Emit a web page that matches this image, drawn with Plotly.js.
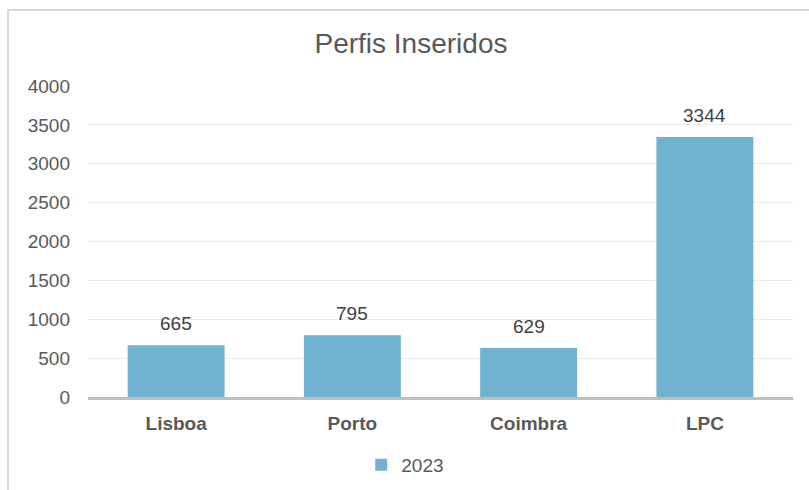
<!DOCTYPE html>
<html>
<head>
<meta charset="utf-8">
<script src="https://cdn.plot.ly/plotly-3.0.1.min.js"></script>
<style>
  html, body { margin: 0; padding: 0; background: #ffffff; }
  #frame { position: absolute; left: 7px; top: 9px; width: 820px; height: 500px;
           border-left: 2px solid #d9d9d9; border-top: 2px solid #d9d9d9; }
  #chart { position: absolute; left: 0; top: 0; width: 809px; height: 490px; }
</style>
</head>
<body>
<div id="frame"></div>
<div id="chart"></div>
<script>
const categories = ["Lisboa", "Porto", "Coimbra", "LPC"];
const values2023 = [665, 795, 629, 3344];
const seriesName = "2023";
const yTicks = [0, 500, 1000, 1500, 2000, 2500, 3000, 3500, 4000];

const barColor = "#70b2cf";
const FONT = "Liberation Sans, Arial, sans-serif";

const trace = {
  type: "bar",
  x: categories,
  y: values2023,
  name: seriesName,
  marker: { color: barColor },
  width: 0.55,
  showlegend: true,
  hoverinfo: "x+y"
};

const annotations = categories.map((c, i) => ({
  x: c, y: values2023[i], xref: "x", yref: "y",
  text: String(values2023[i]), showarrow: false,
  yanchor: "bottom", yshift: 9,
  font: { family: FONT, size: 19, color: "#404040" }
}));

const layout = {
  width: 809, height: 490,
  paper_bgcolor: "rgba(0,0,0,0)",
  plot_bgcolor: "rgba(0,0,0,0)",
  margin: { l: 88, r: 16, t: 86, b: 93, autoexpand: false },
  title: {
    text: "Perfis Inseridos",
    font: { family: FONT, size: 28, color: "#595959" },
    x: 0.508, xanchor: "center", y: 0.912, yanchor: "middle"
  },
  font: { family: FONT, color: "#595959" },
  xaxis: {
    type: "category",
    automargin: false,
    showline: true, linecolor: "#bfbfbf", linewidth: 3,
    showgrid: false, ticks: "",
    tickfont: { family: FONT, size: 19, color: "#595959", weight: "bold" },
    ticklabelstandoff: 7,
    fixedrange: true
  },
  yaxis: {
    automargin: false,
    range: [0, 4000],
    tickvals: yTicks,
    ticktext: yTicks.map(String),
    showgrid: true, gridcolor: "#ececec", gridwidth: 1,
    zeroline: false, showline: false, ticks: "",
    tickfont: { family: FONT, size: 19, color: "#595959" },
    ticklabelstandoff: 17,
    fixedrange: true
  },
  showlegend: true,
  legend: {
    orientation: "h", x: 0.45, xanchor: "center", y: -0.218, yanchor: "middle",
    font: { family: FONT, size: 19, color: "#595959" },
    itemwidth: 30
  },
  annotations: annotations,
  bargap: 0.45
};

Plotly.newPlot("chart", [trace], layout, { displayModeBar: false, staticPlot: true });
</script>
</body>
</html>
